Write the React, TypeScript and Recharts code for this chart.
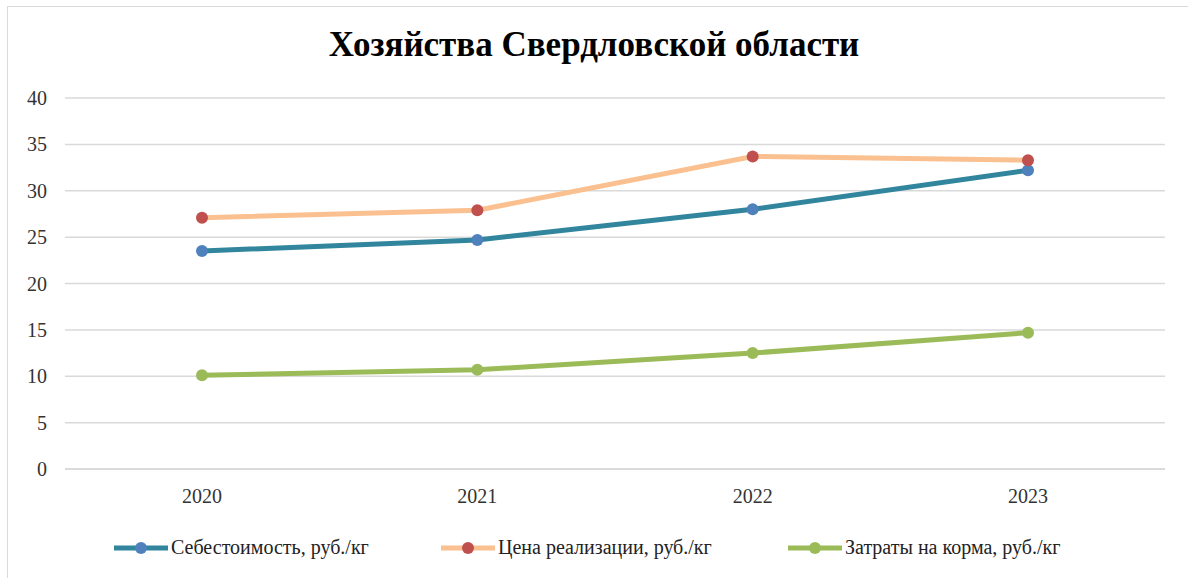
import * as React from "react";
import { LineChart, Line, XAxis, YAxis, CartesianGrid, Legend } from "recharts";

const YEARS = ["2020", "2021", "2022", "2023"];
const COST = [23.5, 24.7, 28.0, 32.2];
const PRICE = [27.1, 27.9, 33.7, 33.3];
const FEED = [10.1, 10.7, 12.5, 14.7];
const Y_TICKS = [0, 5, 10, 15, 20, 25, 30, 35, 40];

const SERIES = [
  { key: "cost", name: "Себестоимость, руб./кг", line: "#31859C", dot: "#4F81BD", left: 113 },
  { key: "price", name: "Цена реализации, руб./кг", line: "#FAC090", dot: "#C0504D", left: 440 },
  { key: "feed", name: "Затраты на корма, руб./кг", line: "#9BBB59", dot: "#9BBB59", left: 787 },
];

const data = YEARS.map((year, i) => ({
  year,
  cost: COST[i],
  price: PRICE[i],
  feed: FEED[i],
}));

const FONT = "Liberation Serif";
const TICK = { fill: "#333", fontSize: 20, fontFamily: FONT, style: { fontFamily: FONT } };

// Excel-style legend: thick line swatch with the marker in the middle
function LegendContent() {
  return (
    <div style={{ position: "relative", width: 1000, height: 20, fontFamily: FONT, fontSize: 20, color: "#222" }}>
      {SERIES.map((s) => (
        <div
          key={s.key}
          style={{ position: "absolute", left: s.left - 113, top: 0, display: "flex", alignItems: "center", whiteSpace: "nowrap" }}
        >
          <svg width={56} height={14}>
            <line x1={1} y1={7} x2={55} y2={7} stroke={s.line} strokeWidth={5} />
            <circle cx={28} cy={7} r={6} fill={s.dot} />
          </svg>
          <span style={{ marginLeft: 2, fontFamily: FONT }}>{s.name}</span>
        </div>
      ))}
    </div>
  );
}

export default function App() {
  return (
    <div
      style={{
        position: "absolute",
        left: 0,
        top: 0,
        width: 1188,
        height: 578,
        background: "#fff",
        overflow: "hidden",
        fontFamily: FONT,
      }}
    >
      <div
        style={{
          position: "absolute",
          left: 7,
          top: 6,
          width: 1200,
          height: 600,
          border: "1.5px solid #d9d9d9",
          boxSizing: "border-box",
        }}
      />
      <div
        style={{
          position: "absolute",
          top: 25,
          left: 0,
          width: 1188,
          textAlign: "center",
          fontFamily: FONT,
          fontWeight: "bold",
          fontSize: 35,
          color: "#000",
        }}
      >
        Хозяйства Свердловской области
      </div>
      <LineChart
        width={1188}
        height={578}
        data={data}
        margin={{ top: 98, right: 23, bottom: 59, left: 5 }}
        style={{ position: "absolute", left: 0, top: 0, fontFamily: FONT }}
      >
        <CartesianGrid vertical={false} stroke="#d9d9d9" strokeWidth={1.5} />
        <XAxis
          dataKey="year"
          height={30}
          padding={{ left: 137, right: 137 }}
          axisLine={{ stroke: "#d9d9d9", strokeWidth: 1.5 }}
          tickLine={false}
          tick={TICK}
          tickMargin={14}
        />
        <YAxis
          width={60}
          domain={[0, 40]}
          ticks={Y_TICKS}
          axisLine={false}
          tickLine={false}
          tick={TICK}
          tickMargin={12}
        />
        <Legend
          content={<LegendContent />}
          wrapperStyle={{ position: "absolute", top: 536, left: 113, width: "auto" }}
        />
        {SERIES.map((s) => (
          <Line
            key={s.key}
            dataKey={s.key}
            name={s.name}
            type="linear"
            stroke={s.line}
            strokeWidth={5}
            dot={{ r: 6, fill: s.dot, stroke: s.dot, strokeWidth: 0 }}
            activeDot={false}
            isAnimationActive={false}
          />
        ))}
      </LineChart>
    </div>
  );
}
